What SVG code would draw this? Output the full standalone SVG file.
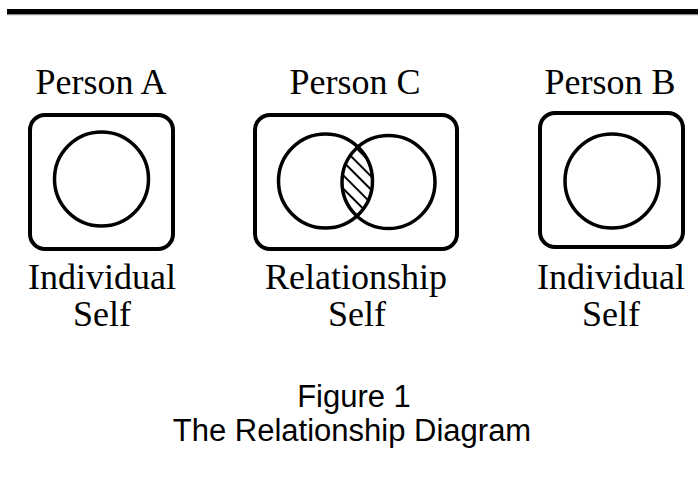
<svg xmlns="http://www.w3.org/2000/svg" width="698" height="491" viewBox="0 0 698 491">
<style>
.box{fill:none;stroke:#000;stroke-width:4}
.circ{fill:none;stroke:#000;stroke-width:3.5}
.lbl{font-family:"Liberation Serif","Times New Roman",serif;font-size:36px;fill:#000;text-anchor:middle}
.cap{font-family:"Liberation Sans",Arial,sans-serif;font-size:31px;fill:#000;text-anchor:middle}
</style>
<defs>
<pattern id="hatch" width="9.5" height="9.5" patternUnits="userSpaceOnUse" patternTransform="rotate(-45)">
<line x1="4.75" y1="0" x2="4.75" y2="9.5" stroke="#000" stroke-width="2"/>
</pattern>
<clipPath id="clipL"><circle cx="325.5" cy="181" r="46"/></clipPath>
<clipPath id="clipR"><circle cx="388.5" cy="182" r="46"/></clipPath>
</defs>
<rect width="698" height="491" fill="#fff"/>
<g id="topbar">
<rect x="7" y="9" width="691" height="5" fill="#000"/>
<rect x="7" y="14" width="691" height="1.2" fill="#888"/>
</g>
<g id="connectors"/>
<g id="personA">
<text class="lbl" x="101" y="94">Person A</text>
<rect class="box" x="30" y="115" width="143" height="134" rx="15"/>
<circle class="circ" cx="101.5" cy="179" r="47"/>
<text class="lbl" x="102" y="289">Individual</text>
<text class="lbl" x="102" y="326">Self</text>
</g>
<g id="personC">
<text class="lbl" x="355" y="94">Person C</text>
<rect class="box" x="255" y="115" width="202" height="134" rx="15"/>
<g clip-path="url(#clipL)"><rect x="330" y="120" width="60" height="120" fill="url(#hatch)" clip-path="url(#clipR)"/></g>
<circle class="circ" cx="325.5" cy="181" r="47"/>
<circle class="circ" cx="388.5" cy="182" r="46.5"/>
<text class="lbl" x="356" y="289">Relationship</text>
<text class="lbl" x="357" y="326">Self</text>
</g>
<g id="personB">
<text class="lbl" x="610" y="94">Person B</text>
<rect class="box" x="540" y="113" width="143" height="134" rx="15"/>
<circle class="circ" cx="612" cy="181" r="47"/>
<text class="lbl" x="611" y="289">Individual</text>
<text class="lbl" x="611" y="326">Self</text>
</g>
<g id="caption">
<text class="cap" x="354" y="407">Figure 1</text>
<text class="cap" x="352" y="441">The Relationship Diagram</text>
</g>
</svg>
